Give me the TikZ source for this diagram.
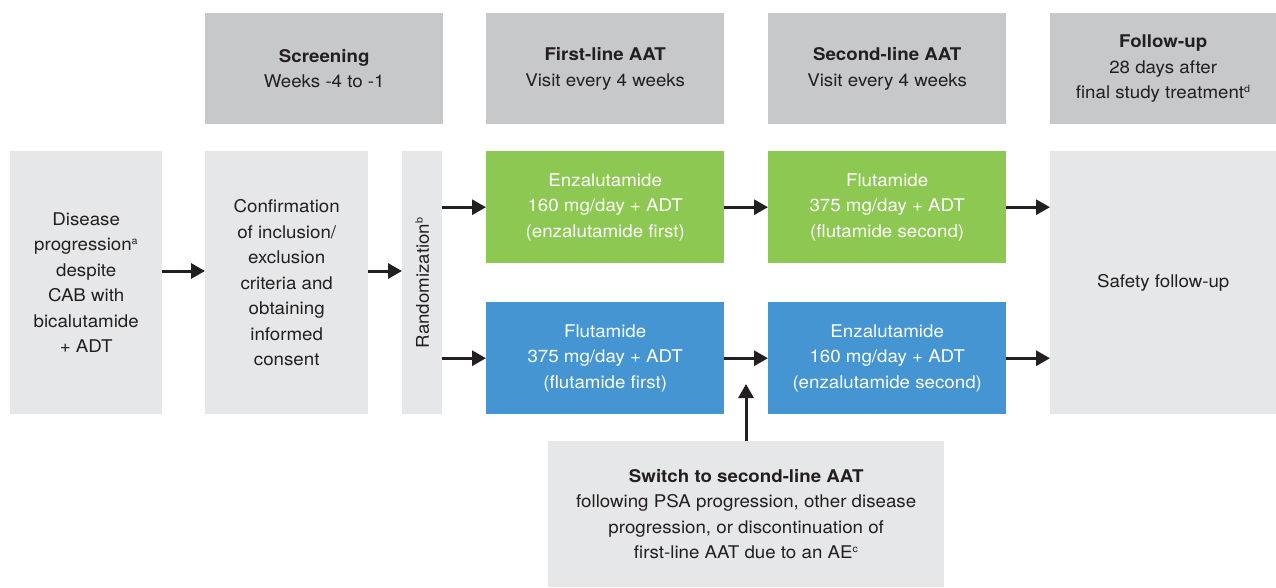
\documentclass[tikz,border=0pt]{standalone}
\usepackage{fontspec}
\setmainfont[FakeStretch=1.07]{TeX Gyre Heros}
\usetikzlibrary{arrows.meta}
\definecolor{hdr}{HTML}{C7C8CA}
\definecolor{lgray}{HTML}{E6E7E8}
\definecolor{grn}{HTML}{8DC853}
\definecolor{blu}{HTML}{4495D1}
\definecolor{txt}{HTML}{231F20}
\newcommand{\sps}[1]{\textsuperscript{\fontsize{10}{10}\selectfont #1}}
\begin{document}
\begin{tikzpicture}[x=1pt,y=-1pt,
  box/.style={anchor=north west, inner sep=0pt, align=center,
    font=\fontsize{17.5}{25.5}\selectfont, text=txt},
  hbox/.style={box, fill=hdr, minimum width=238pt, minimum height=111pt},
  gbox/.style={box, fill=lgray},
  cbox/.style={box, text=white, minimum width=238pt, minimum height=112pt},
  arr/.style={draw=txt, line width=3pt, -{Triangle[length=14pt,width=15pt]}}]
\useasboundingbox (0,0) rectangle (1276,587);
% headers
\node[hbox] (scr) at (205,13) {\textbf{Screening}\\Weeks -4 to -1};
\node[hbox] (fl) at (486,13) {\textbf{First-line AAT}\\Visit every 4 weeks};
\node[hbox] (sl) at (768,13) {\textbf{Second-line AAT}\\Visit every 4 weeks};
\node[hbox, minimum width=226pt] (fu) at (1050,13) {\textbf{Follow-up}\\28 days after\\final study treatment\sps{d}};
% gray boxes
\node[gbox, minimum width=152pt, minimum height=263pt] (dis) at (10,151)
  {Disease\\progression\sps{a}\\despite\\CAB with\\bicalutamide\\+ ADT};
\node[gbox, minimum width=163pt, minimum height=263pt] (conf) at (205,151)
  {Confirmation\\of inclusion/\\exclusion\\criteria and\\obtaining\\informed\\consent};
\node[gbox, minimum width=40pt, minimum height=263pt] (rnd) at (402,151) {};
\node[box, anchor=center, rotate=90] (rndl) at (rnd.center) {Randomization\sps{b}};
\node[gbox, minimum width=226pt, minimum height=263pt] (saf) at (1050,151) {Safety follow-up};
% treatment boxes
\node[cbox, fill=grn] (g1) at (486,151) {Enzalutamide\\160 mg/day + ADT\\(enzalutamide first)};
\node[cbox, fill=grn] (g2) at (768,151) {Flutamide\\375 mg/day + ADT\\(flutamide second)};
\node[cbox, fill=blu] (b1) at (486,302) {Flutamide\\375 mg/day + ADT\\(flutamide first)};
\node[cbox, fill=blu] (b2) at (768,302) {Enzalutamide\\160 mg/day + ADT\\(enzalutamide second)};
% switch box
\node[gbox, minimum width=396pt, minimum height=146pt] (sw) at (548,441)
  {\textbf{Switch to second-line AAT}\\following PSA progression, other disease\\progression, or discontinuation of\\first-line AAT due to an AE\sps{c}};
% arrows
\draw[arr] (dis.east |- 0,271) -- (conf.west |- 0,271);
\draw[arr] (conf.east |- 0,271) -- (rnd.west |- 0,271);
\draw[arr] (rnd.east |- g1.west) -- (g1.west);
\draw[arr] (rnd.east |- b1.west) -- (b1.west);
\draw[arr] (g1.east) -- (g2.west);
\draw[arr] (b1.east) -- (b2.west);
\draw[arr] (g2.east) -- (saf.west |- g2.east);
\draw[arr] (b2.east) -- (saf.west |- b2.east);
\coordinate (swtip) at (746,384);
\draw[arr] (sw.north -| swtip) -- (swtip);
\end{tikzpicture}
\end{document}
